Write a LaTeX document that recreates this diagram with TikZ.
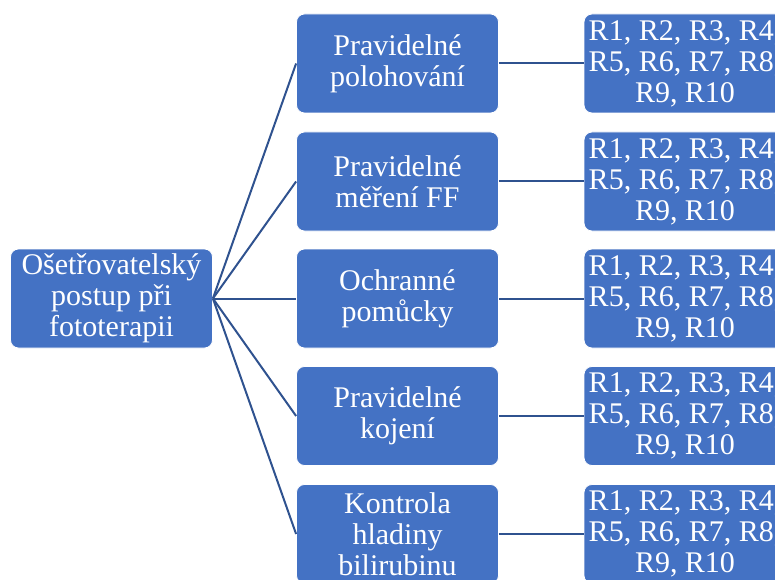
\documentclass[tikz,border=0pt]{standalone}
\usepackage{fontspec}
\setmainfont{Liberation Serif}
\definecolor{boxblue}{HTML}{4472C4}
\definecolor{linkblue}{HTML}{2F528F}
\begin{document}
\begin{tikzpicture}[x=1pt,y=1pt,
  card/.style={draw=white, line width=0.8pt, fill=boxblue, rounded corners=8pt,
    minimum width=202pt, minimum height=99pt, inner sep=0pt,
    text=white, align=center, font=\fontsize{30}{31}\selectfont},
  link/.style={draw=linkblue, line width=2pt}]
\useasboundingbox (0,0) rectangle (775,579);
\clip (0,0) rectangle (775,579);
% root
\node[card] (root) at (111.5,280.5) {Ošetřovatelský\\postup při\\fototerapii};
% steps
\node[card] (s1) at (397.5,515.5) {Pravidelné\\polohování};
\node[card] (s2) at (397.5,397.5) {Pravidelné\\měření FF};
\node[card] (s3) at (397.5,280.5) {Ochranné\\pomůcky};
\node[card] (s4) at (397.5,163) {Pravidelné\\kojení};
\node[card] (s5) at (397.5,45) {Kontrola\\hladiny\\bilirubinu};
% respondents
\foreach \i/\y in {1/515.5,2/397.5,3/280.5,4/163,5/45}{
  \node[card] (r\i) at (685,\y) {R1, R2, R3, R4,\\R5, R6, R7, R8,\\R9, R10};
}
% connectors
\foreach \i in {1,...,5}{
  \draw[link] (root.east) -- (s\i.west);
  \draw[link] (s\i.east) -- (r\i.west);
}
\end{tikzpicture}
\end{document}
